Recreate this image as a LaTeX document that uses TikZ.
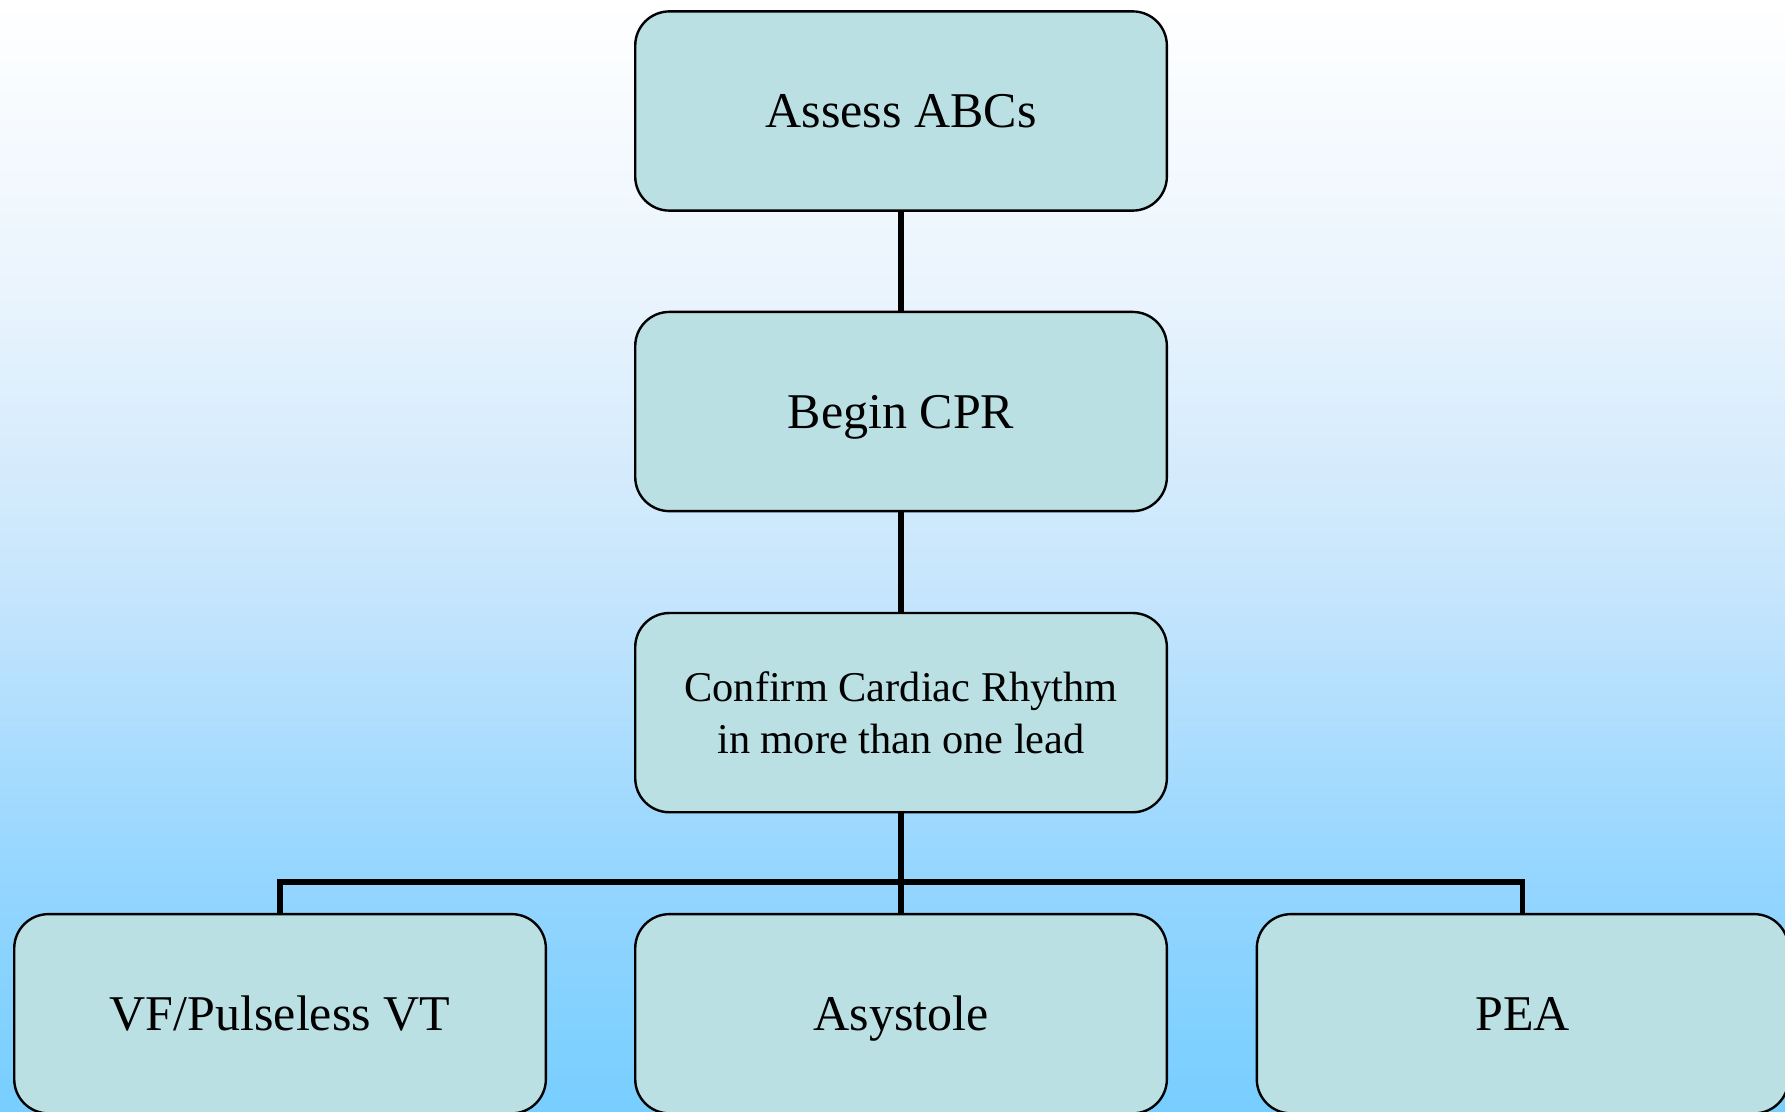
\documentclass[tikz,border=0pt]{standalone}
\usepackage{fontspec}
\setmainfont{Liberation Serif}
\usetikzlibrary{positioning}

\definecolor{boxfill}{RGB}{186,224,227}
\definecolor{skyb}{RGB}{102,202,255}
\definecolor{skyl}{RGB}{150,214,255}
\definecolor{skym}{RGB}{200,230,252}
\definecolor{skyt}{RGB}{234,244,253}
% the shading square is fitted to the width, so only 19bp..81bp shows
\pgfdeclareverticalshading{sky}{100bp}{color(0bp)=(skyb); color(19bp)=(skyb); color(36bp)=(skyl); color(49bp)=(skym); color(62bp)=(skyt); color(75bp)=(white); color(100bp)=(white)}

\begin{document}
\begin{tikzpicture}[
  stepbox/.style={draw,fill=boxfill,rounded corners=0.3cm,line width=0.6pt,
    minimum width=4.67cm,minimum height=1.75cm,inner sep=0pt,align=center,
    text height=1.1em,text depth=0.25em,
    font=\fontsize{12.5}{15}\selectfont},
  link/.style={line width=1.4pt}]
\useasboundingbox (0,0) rectangle (15.68,-9.76);
\clip (0,0) rectangle (15.68,-9.76);
\shade[shading=sky] (0,0) rectangle (15.68,-9.76);

\path
(7.915,-0.975) node[stepbox] (abc) {Assess ABCs}
(7.915,-3.615) node[stepbox] (cpr) {Begin CPR}
(7.915,-6.26)  node[stepbox,text height={},text depth={},font=\fontsize{10.6}{13}\selectfont] (rhythm) {Confirm Cardiac Rhythm\\in more than one lead}
(2.46,-8.905)  node[stepbox] (vf) {VF/Pulseless VT}
(7.915,-8.905) node[stepbox] (asys) {Asystole}
(13.375,-8.905) node[stepbox] (pea) {PEA};

\coordinate (bus) at (7.915,-7.75);
\draw[link] (abc) -- (cpr);
\draw[link] (cpr) -- (rhythm);
\draw[link] (rhythm) -- (asys);
\draw[link] (vf.north) |- (bus) -| (pea.north);
\end{tikzpicture}
\end{document}
